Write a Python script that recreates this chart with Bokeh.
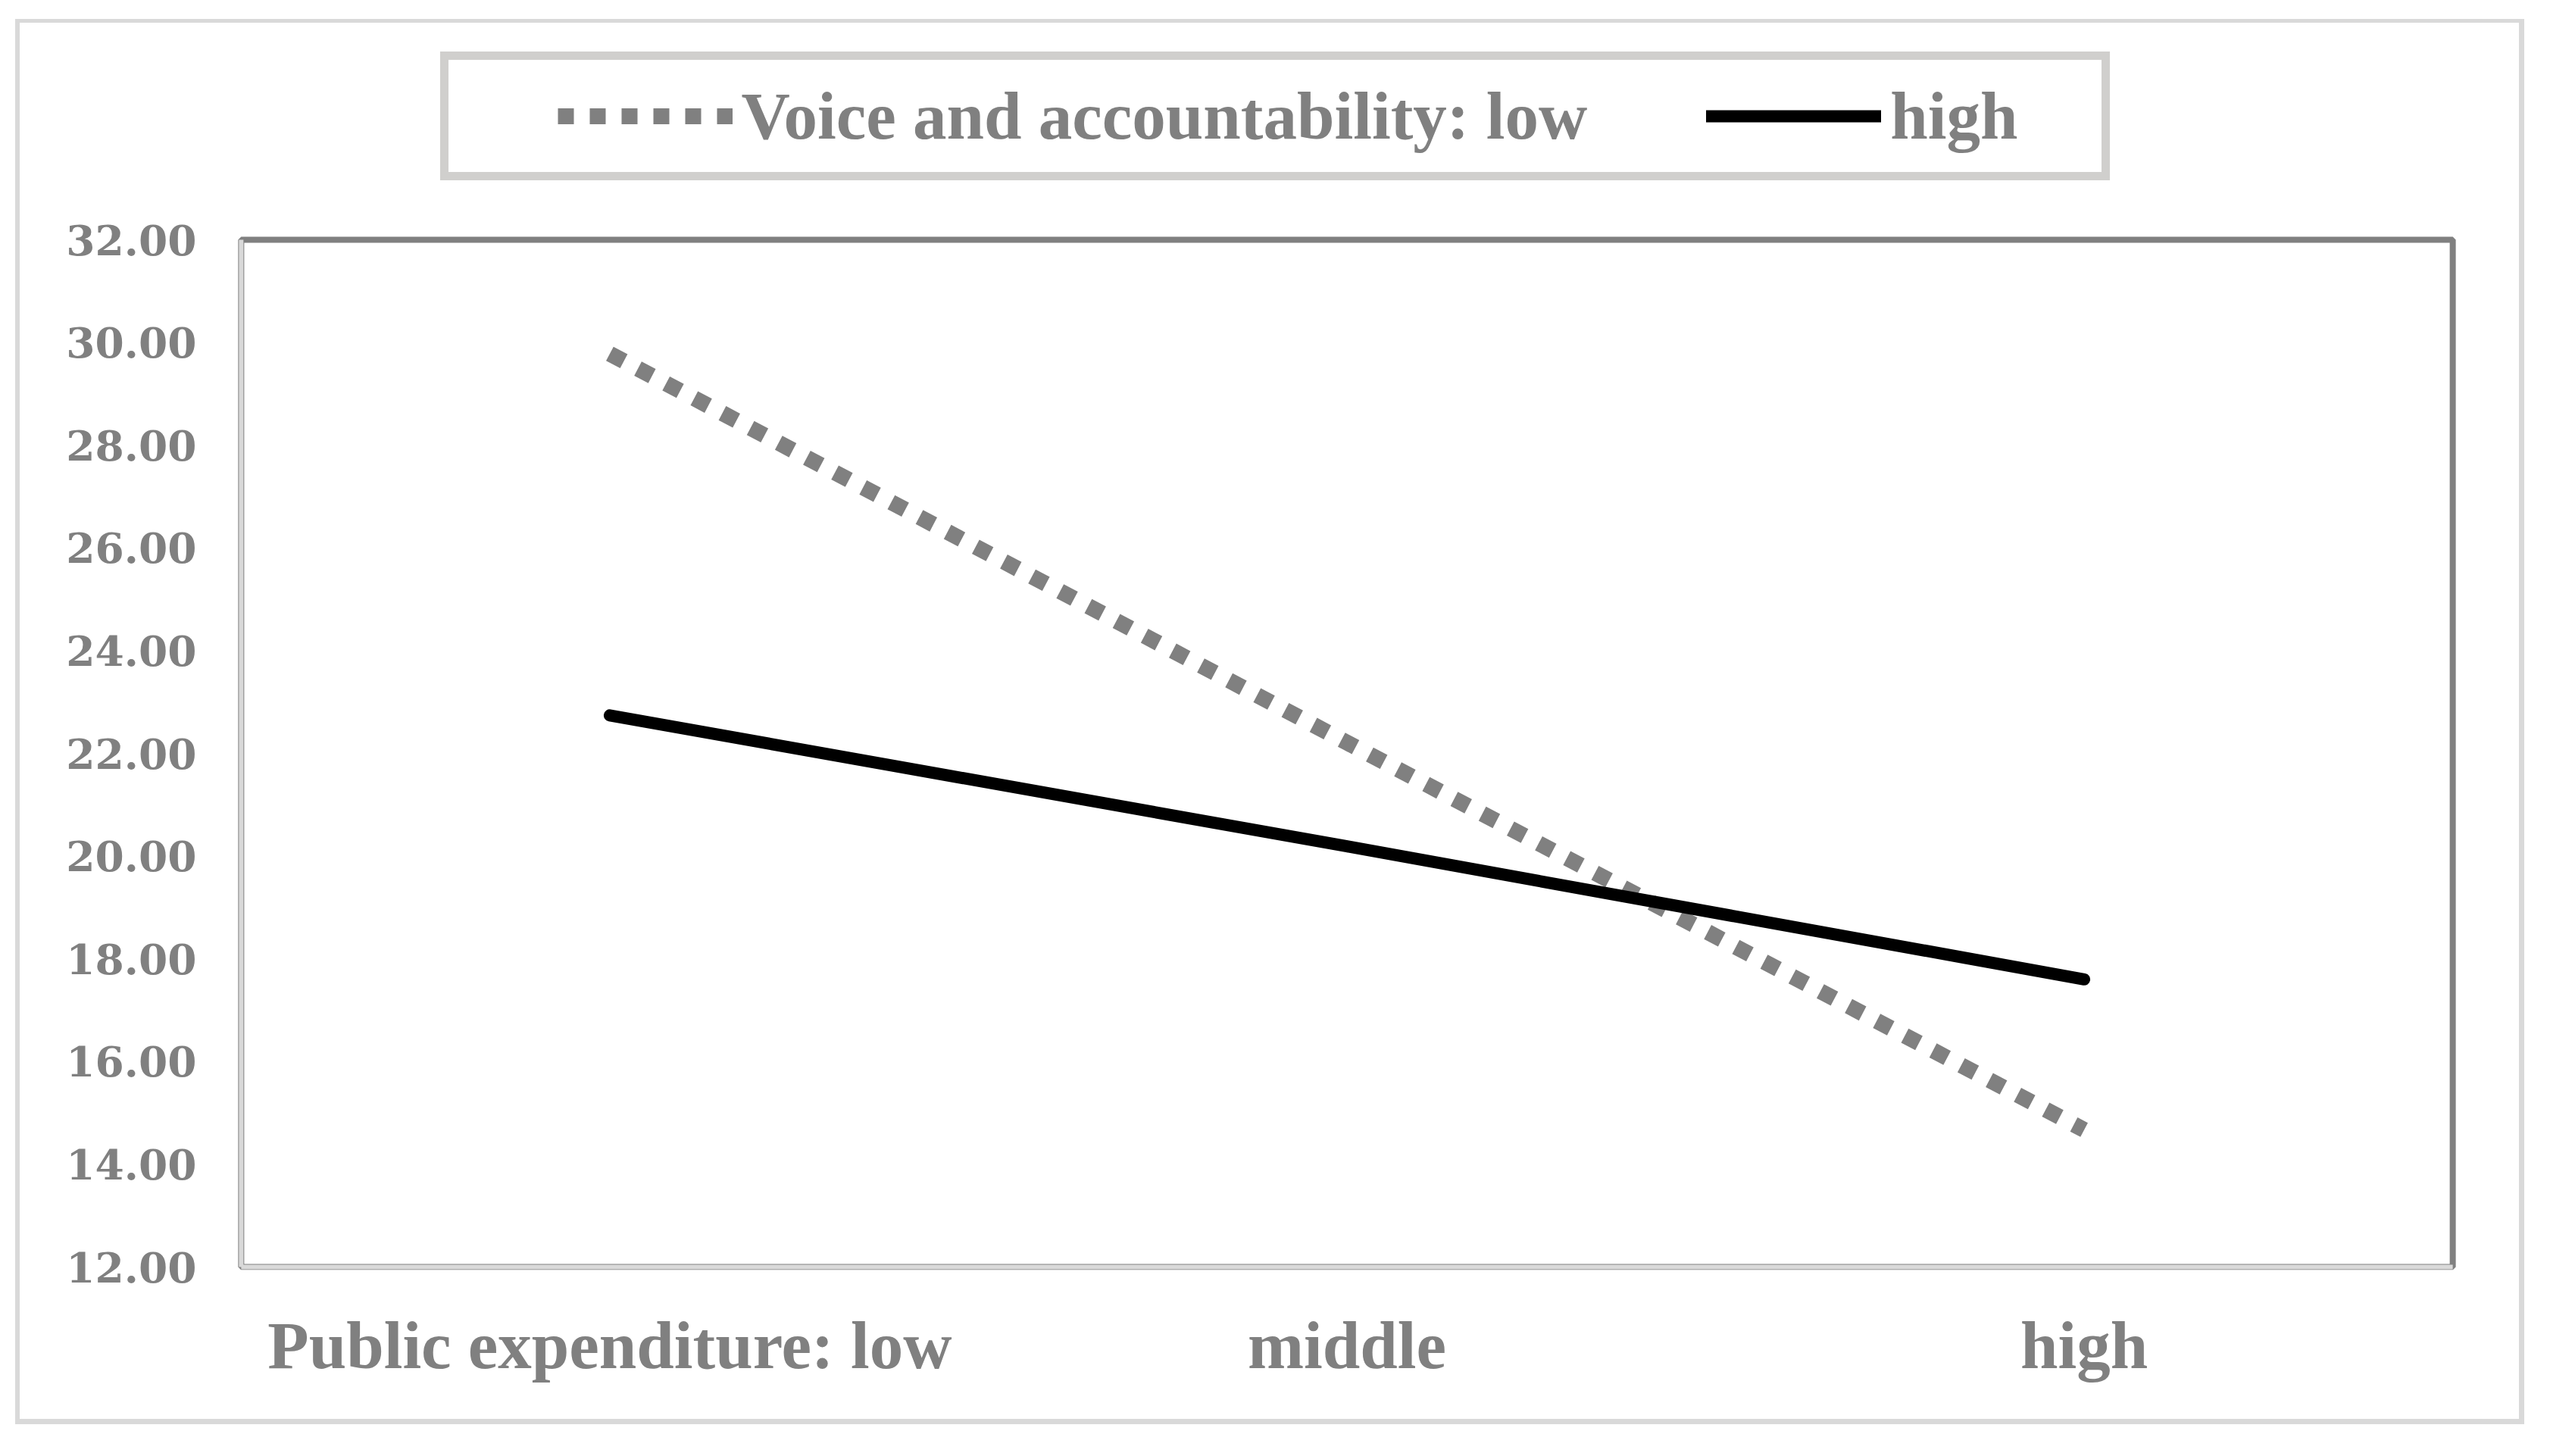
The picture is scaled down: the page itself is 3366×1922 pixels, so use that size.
from bokeh.plotting import figure
from bokeh.models import (Range1d, FactorRange, BoxAnnotation, Legend, LegendItem,
                          FixedTicker, NumeralTickFormatter)
from bokeh.embed import file_html
from bokeh.resources import INLINE

# ---- data ----
categories = ["Public expenditure: low", "middle", "high"]
va_low = [29.78, 22.21, 14.67]
va_high = [22.74, 20.19, 17.60]
y_ticks = [12, 14, 16, 18, 20, 22, 24, 26, 28, 30, 32]
y_min, y_max = 12, 32
legend_labels = ["Voice and accountability: low", "high"]

GRAY = "#808080"
LIGHT = "#d9d9d9"
LEGBOX = "#d0cfcd"

# frame geometry (canvas px); the frame reaches up to hold the boxed legend,
# the visible plot box is drawn at the axis limits 12..32
W, H = 3348, 1899
FR_LEFT, FR_RIGHT, FR_TOP, FR_BOTTOM = 313, 3242, 40, 1676
PX_PER_UNIT = 67.8
y_lo = y_min - 4 / PX_PER_UNIT
y_hi = y_max + (324 - 8 - FR_TOP) / PX_PER_UNIT

# light-grey chart-area border drawn behind the (transparent) canvas border
_band = "linear-gradient(#d9d9d9,#d9d9d9)"
chart_border = ", ".join([
    f"{_band} 20px 25px / 3312px 5px no-repeat",
    f"{_band} 20px 1873px / 3312px 7px no-repeat",
    f"{_band} 20px 25px / 6px 1855px no-repeat",
    f"{_band} 3325px 25px / 7px 1855px no-repeat",
])

p = figure(width=W, height=H,
           x_range=FactorRange(*categories, range_padding=0.005,
                               range_padding_units="absolute"),
           y_range=Range1d(y_lo, y_hi),
           output_backend="svg", toolbar_location=None,
           min_border_left=FR_LEFT, min_border_right=W - FR_RIGHT,
           min_border_top=FR_TOP, min_border_bottom=H - FR_BOTTOM,
           background_fill_color="white", border_fill_color=None,
           styles={"background": chart_border})
p.outline_line_color = None
p.xgrid.visible = False
p.ygrid.visible = False

for ax in (p.xaxis[0], p.yaxis[0]):
    ax.axis_line_color = None
    ax.major_tick_line_color = None
    ax.minor_tick_line_color = None
    ax.major_tick_out = 0
    ax.major_tick_in = 0
    ax.minor_tick_out = 0
    ax.minor_tick_in = 0
    ax.major_label_text_color = GRAY

p.yaxis.ticker = FixedTicker(ticks=y_ticks)
p.yaxis.formatter = NumeralTickFormatter(format="0.00")
p.yaxis.major_label_text_font = "DejaVu Serif"
p.yaxis.major_label_text_font_style = "bold"
p.yaxis.major_label_text_font_size = "55px"
p.yaxis.major_label_standoff = 54

p.xaxis.major_label_text_font = "Liberation Serif"
p.xaxis.major_label_text_font_style = "bold"
p.xaxis.major_label_text_font_size = "89px"
p.xaxis.major_label_standoff = 50

# ---- plot-area box (bevel look: dark top/right, light band left/bottom) ----
n_cat = len(categories)
p.add_layout(BoxAnnotation(left=0, right=n_cat, bottom=y_min, top=y_max,
                           fill_alpha=0, line_color=GRAY, line_width=8, line_alpha=1))
p.add_layout(BoxAnnotation(left=0, right=0, bottom=y_min, top=y_max,
                           fill_alpha=0, line_color=LIGHT, line_width=6, line_alpha=1))
p.add_layout(BoxAnnotation(left=0, right=n_cat, bottom=y_min, top=y_min,
                           fill_alpha=0, line_color=LIGHT, line_width=6, line_alpha=1))

# ---- series ----
r_low = p.line(x=categories, y=va_low, line_color=GRAY, line_width=21,
               line_dash="21 21", line_cap="butt")
r_high = p.line(x=categories, y=va_high, line_color="black", line_width=16,
                line_cap="round", line_join="round")

# ---- boxed legend above the plot box ----
legend = Legend(items=[LegendItem(label=legend_labels[0], renderers=[r_low]),
                       LegendItem(label=legend_labels[1], renderers=[r_high])],
                location=(267.5, 1438), orientation="horizontal",
                title=" ", title_location="left", title_standoff=123,
                title_text_font_size="1px",
                glyph_width=231, glyph_height=108, label_height=108, label_width=259,
                label_standoff=12, spacing=157, padding=20, margin=0,
                border_line_color=LEGBOX, border_line_width=11.5, border_line_alpha=1,
                background_fill_color="white", background_fill_alpha=1,
                label_text_font="Liberation Serif", label_text_font_style="bold",
                label_text_font_size="89px", label_text_color=GRAY)
p.add_layout(legend)

open("out.html", "w").write(file_html(p, INLINE))
